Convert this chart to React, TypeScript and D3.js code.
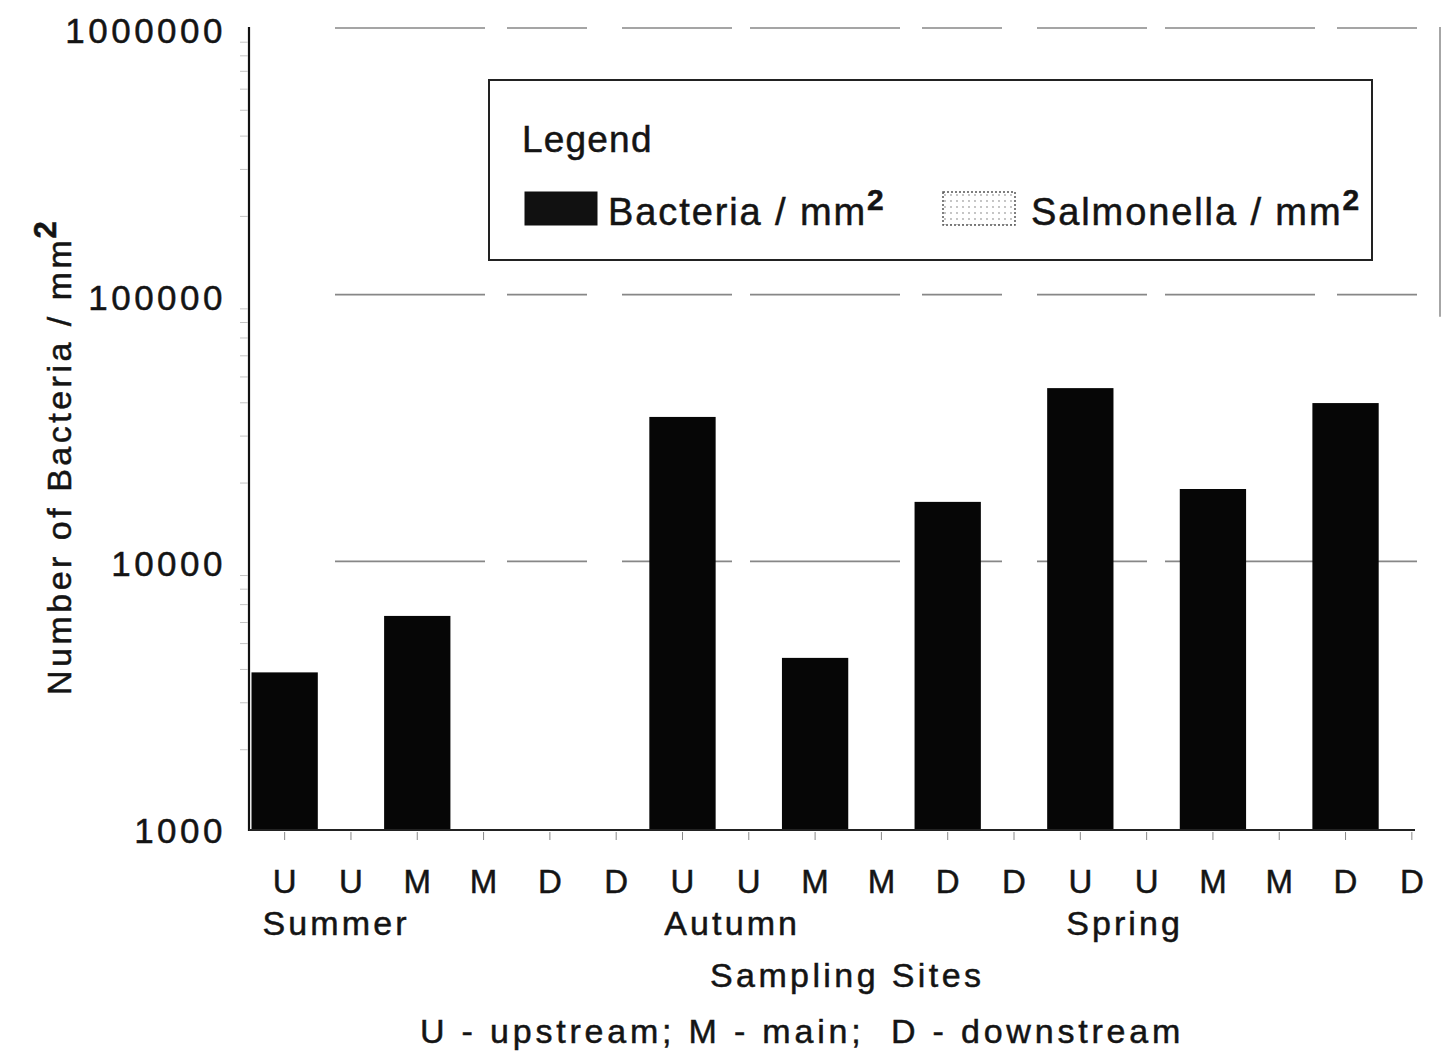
import React, { useEffect, useRef } from 'react';
import * as d3 from 'd3';

// sampling sites, each one has a bacteria bar and a salmonella bar
const seasons = ['Summer', 'Autumn', 'Spring'];
const siteCodes = ['U', 'M', 'D'];
// bacteria per mm2, one value per season x site (null = below the axis)
const bacteria = [3900, 6350, null, 35400, 4420, 17000, 45400, 19000, 39900];
// salmonella per mm2, none reached the 1000 floor
const salmonella = [null, null, null, null, null, null, null, null, null];
const yTicks = [1000, 10000, 100000, 1000000];
const noteText = 'U - upstream; M - main;  D - downstream';

const FONT = '"Liberation Sans", Arial, Helvetica, sans-serif';
const INK = '#141414';

const App = () => {
  const svgRef = useRef<SVGSVGElement>(null);

  useEffect(() => {
    document.body.style.margin = '0';
    const svg = d3.select(svgRef.current);
    svg.selectAll('*').remove();

    // one slot per bar: season -> site -> [bacteria, salmonella]
    const slots: { label: string; value: number | null; kind: string; season: string }[] = [];
    seasons.forEach((s, si) => {
      siteCodes.forEach((c, ci) => {
        const k = si * siteCodes.length + ci;
        slots.push({ label: c, value: bacteria[k], kind: 'bacteria', season: s });
        slots.push({ label: c, value: salmonella[k], kind: 'salmonella', season: s });
      });
    });

    const x = d3.scaleBand<number>()
      .domain(d3.range(slots.length))
      .range([251.5, 1445])
      .padding(0);

    const y = d3.scaleLog()
      .domain([1000, 1000000])
      .range([830, 30]);

    const txt = (sel: any, size: number, spacing: number) =>
      sel.style('font-family', FONT)
        .style('font-size', `${size}px`)
        .style('letter-spacing', `${spacing}px`)
        .style('white-space', 'pre')
        .attr('fill', INK)
        .attr('stroke', INK)
        .attr('stroke-width', 0.5);

    const defs = svg.append('defs');
    const pat = defs.append('pattern')
      .attr('id', 'dots')
      .attr('width', 6)
      .attr('height', 6)
      .attr('patternUnits', 'userSpaceOnUse');
    pat.append('rect').attr('width', 6).attr('height', 6).attr('fill', '#fff');
    pat.append('circle').attr('cx', 3).attr('cy', 3).attr('r', 0.9).attr('fill', '#aaa');

    svg.append('rect').attr('width', 1442).attr('height', 1056).attr('fill', '#fff');

    // faint broken grid lines at the decades
    svg.append('g')
      .selectAll('line')
      .data(yTicks.slice(1))
      .join('line')
      .attr('x1', 335)
      .attr('x2', 1440)
      .attr('y1', d => y(d) - 2)
      .attr('y2', d => y(d) - 2)
      .attr('stroke', '#555')
      .attr('stroke-width', 1.6)
      .attr('stroke-dasharray', '150,22,80,35,110,18')
      .attr('opacity', 0.7);

    // right frame edge (only the upper part survived)
    svg.append('line')
      .attr('x1', 1440).attr('x2', 1440)
      .attr('y1', y(1000000) - 3).attr('y2', y(100000) + 20)
      .attr('stroke', '#888').attr('stroke-width', 1.5);

    // bars
    svg.append('g')
      .selectAll('rect')
      .data(slots.map((d, i) => ({ ...d, i })).filter(d => d.value != null && d.value > 1000))
      .join('rect')
      .attr('x', d => x(d.i)!)
      .attr('width', x.bandwidth())
      .attr('y', d => y(d.value as number))
      .attr('height', d => y(1000) - y(d.value as number))
      .attr('fill', d => (d.kind === 'bacteria' ? '#060606' : 'url(#dots)'));

    // y axis
    svg.append('line')
      .attr('x1', 249).attr('x2', 249)
      .attr('y1', y(1000000) - 3).attr('y2', y(1000) + 1)
      .attr('stroke', '#111').attr('stroke-width', 2.2);

    // minor log ticks, barely visible in the scan
    const minor: number[] = [];
    [1000, 10000, 100000].forEach(dec => {
      for (let m = 2; m <= 9; m++) minor.push(dec * m);
    });
    svg.append('g')
      .selectAll('line')
      .data(minor)
      .join('line')
      .attr('x1', 240).attr('x2', 248)
      .attr('y1', d => y(d)).attr('y2', d => y(d))
      .attr('stroke', '#c4c4c4').attr('stroke-width', 1);

    txt(svg.append('g')
      .selectAll('text')
      .data(yTicks)
      .join('text')
      .attr('x', 226)
      .attr('y', d => y(d) + 13)
      .attr('text-anchor', 'end')
      .text(d => String(d)), 35, 3.5);

    // x axis
    svg.append('line')
      .attr('x1', 249).attr('x2', 1415)
      .attr('y1', y(1000)).attr('y2', y(1000))
      .attr('stroke', '#222').attr('stroke-width', 2);

    svg.append('g')
      .selectAll('line')
      .data(slots.map((_, i) => i))
      .join('line')
      .attr('x1', i => x(i)! + x.bandwidth() / 2)
      .attr('x2', i => x(i)! + x.bandwidth() / 2)
      .attr('y1', y(1000) + 2)
      .attr('y2', y(1000) + 10)
      .attr('stroke', '#888').attr('stroke-width', 1);

    txt(svg.append('g')
      .selectAll('text')
      .data(slots.map((d, i) => ({ ...d, i })))
      .join('text')
      .attr('x', d => x(d.i)! + x.bandwidth() / 2)
      .attr('y', 893)
      .attr('text-anchor', 'middle')
      .text(d => d.label), 33, 0);

    // season labels under the first slot of each season
    txt(svg.append('g')
      .selectAll('text')
      .data(seasons)
      .join('text')
      .attr('x', (s, si) => x(si * siteCodes.length * 2)! + 11 + si * 4)
      .attr('y', 935)
      .text(s => s), 34, 3.1);

    txt(svg.append('text')
      .attr('x', 710)
      .attr('y', 987)
      .text('Sampling Sites'), 34, 3.4);

    txt(svg.append('text')
      .attr('x', 420)
      .attr('y', 1043)
      .text(noteText), 34, 3.8);

    // y axis title with superscript
    const yt = svg.append('g').attr('transform', 'translate(71, 695) rotate(-90)');
    const ytMain = txt(yt.append('text')
      .attr('x', 0).attr('y', 0)
      .text('Number of Bacteria / mm'), 34, 3.5);
    const ytLen = (ytMain.node() as SVGTextElement).getComputedTextLength();
    txt(yt.append('text')
      .attr('x', ytLen - 2).attr('y', -15)
      .style('font-weight', 'bold')
      .text('2'), 31, 0);

    // legend
    const lg = svg.append('g');
    lg.append('rect')
      .attr('x', 489).attr('y', 80)
      .attr('width', 883).attr('height', 180)
      .attr('fill', 'none')
      .attr('stroke', '#222').attr('stroke-width', 2);
    txt(lg.append('text')
      .attr('x', 522).attr('y', 152)
      .text('Legend'), 37, 1.2);

    const items = [
      { name: 'Bacteria / mm', fill: '#111', dash: null, sx: 525, tx: 608 },
      { name: 'Salmonella / mm', fill: 'url(#dots)', dash: '2,2', sx: 943, tx: 1031 },
    ];
    items.forEach(it => {
      lg.append('rect')
        .attr('x', it.sx).attr('y', 192)
        .attr('width', 72).attr('height', 33)
        .attr('fill', it.fill)
        .attr('stroke', it.dash ? '#555' : '#111')
        .attr('stroke-width', it.dash ? 1.5 : 1)
        .attr('stroke-dasharray', it.dash);
      const t = txt(lg.append('text')
        .attr('x', it.tx).attr('y', 225)
        .text(it.name), 38, 1.9);
      const len = (t.node() as SVGTextElement).getComputedTextLength();
      txt(lg.append('text')
        .attr('x', it.tx + len).attr('y', 210)
        .style('font-weight', 'bold')
        .text('2'), 30, 0);
    });
  }, []);

  return <svg ref={svgRef} width={1442} height={1056} style={{ display: 'block' }} />;
};

export default App;
